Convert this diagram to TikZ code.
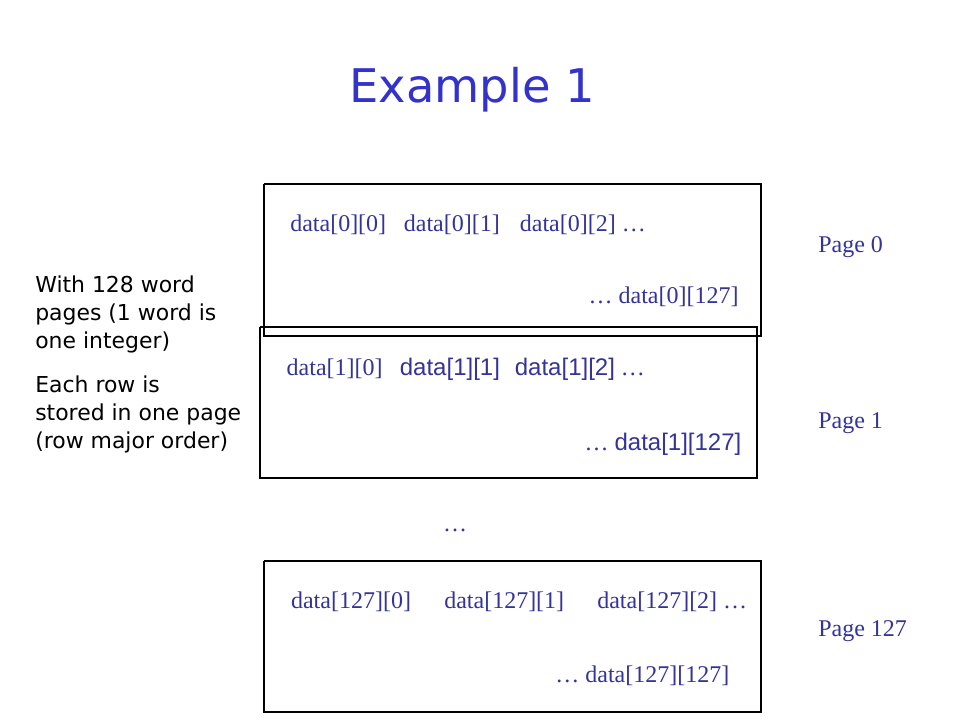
\documentclass[tikz,border=0pt]{standalone}
\usepackage{fontspec}
\setmainfont{Liberation Serif}
\newfontfamily\arialfont{Liberation Sans}
\newfontfamily\comicfont{DejaVu Sans}
\usepackage{tikz}
\usetikzlibrary{positioning}

\definecolor{titleblue}{RGB}{51,51,204}
\definecolor{datablue}{RGB}{51,51,153}

\begin{document}
\begin{tikzpicture}[
    entry/.style={anchor=base west, inner sep=0pt, text=datablue, font=\fontsize{17.07}{20}\selectfont},
    lastentry/.style={entry, anchor=base east},
    pagelabel/.style={entry},
    note/.style={anchor=base west, inner sep=0pt, align=left, font=\comicfont\fontsize{15.6}{19.9}\selectfont},
    pagebox/.style={line width=1pt}
]
\useasboundingbox (0,0) rectangle (24,18);

\node[anchor=base, inner sep=0pt, text=titleblue, font=\comicfont\fontsize{33}{40}\selectfont] (title) at (11.8, 15.425) {Example 1};

% page 0
\draw[pagebox] (6.6,13.4) -- (19.025,13.4) -- (19.025,9.6) -- (6.6,9.6) -- (6.6,13.4);
\node[entry] (d00) at (7.25, 12.225) {data[0][0]};
\node[entry] (d01) at (10.09, 12.225) {data[0][1]};
\node[entry] (d02) at (12.99, 12.225) {data[0][2] …};
\node[lastentry] (d0n) at (18.47, 10.425) {… data[0][127]};
\node[pagelabel] (page0) at (20.45, 11.7) {Page 0};

% page 1
\draw[pagebox] (6.5,9.825) -- (18.925,9.825) -- (18.925,6.05) -- (6.5,6.05) -- (6.5,9.825);
\node[entry] (d10) at (7.16, 8.61) {data[1][0]};
\node[entry] (d11) at (9.99, 8.61) {\arialfont data[1][1]};
\node[entry] (d12) at (12.865, 8.61) {{\arialfont data[1][2]} …};
\node[lastentry] (d1n) at (18.54, 6.75) {… {\arialfont data[1][127]}};
\node[pagelabel] (page1) at (20.45, 7.3) {Page 1};

\node[entry, anchor=base] (skip) at (11.375, 4.725) {…};

% page 127
\draw[pagebox] (6.6,3.975) -- (19.025,3.975) -- (19.025,0.2) -- (6.6,0.2) -- (6.6,3.975);
\node[entry] (dn0) at (7.27, 2.8) {data[127][0]};
\node[entry] (dn1) at (11.1, 2.8) {data[127][1]};
\node[entry] (dn2) at (14.925, 2.8) {data[127][2] …};
\node[lastentry] (dnn) at (18.24, 0.95) {… data[127][127]};
\node[pagelabel] (page127) at (20.45, 2.1) {Page 127};

% notes on the left (base is the last line)
\node[note] (words) at (0.875, 9.3) {With 128 word\\pages (1 word is\\one integer)};
\node[note] (rows) at (0.875, 6.8) {Each row is\\stored in one page\\(row major order)};

\end{tikzpicture}
\end{document}
